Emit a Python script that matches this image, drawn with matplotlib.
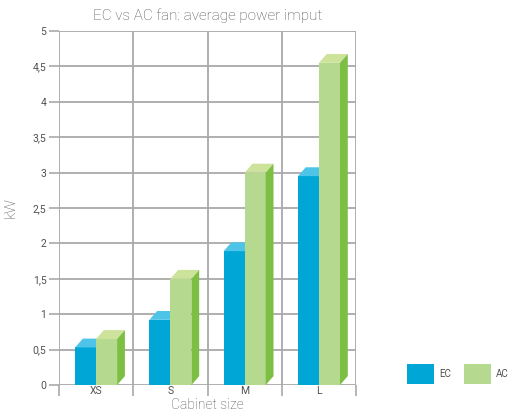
import matplotlib.pyplot as plt
from matplotlib.patches import Polygon, Patch

sizes = ['XS', 'S', 'M', 'L']
ec_kw = [0.53, 0.92, 1.89, 2.95]
ac_kw = [0.65, 1.50, 3.00, 4.55]
yticks = [0, 0.5, 1, 1.5, 2, 2.5, 3, 3.5, 4, 4.5, 5]
ytick_labels = ['0', '0,5', '1', '1,5', '2', '2,5', '3', '3,5', '4', '4,5', '5']

ec_front, ec_top = '#00a6d6', '#4dc4e8'
ac_front, ac_top, ac_side = '#b5d98e', '#cde29a', '#7cbf42'
grid_col = '#a9a9a9'
text_col = '#505050'

plt.rcParams['font.family'] = ['Roboto', 'DejaVu Sans']

fig = plt.figure(figsize=(5.08, 4.11), dpi=100)
ax = fig.add_axes([0.116, 0.0633, 0.585, 0.8613])

w = 0.283
dx, dy = 0.105, 0.125  # depth of the fake 3d boxes (data units)


def box(x, h, front, top, side):
    ax.bar(x, h, width=w, color=front, zorder=3, linewidth=0)
    l, r = x - w / 2, x + w / 2
    ax.add_patch(Polygon([(l, h), (r, h), (r + dx, h + dy), (l + dx, h + dy)],
                         closed=True, facecolor=top, edgecolor='none', zorder=3))
    ax.add_patch(Polygon([(r, 0), (r + dx, dy), (r + dx, h + dy), (r, h)],
                         closed=True, facecolor=side, edgecolor='none', zorder=3))


for i, (e, a) in enumerate(zip(ec_kw, ac_kw)):
    box(i - w / 2, e, ec_front, ec_top, ec_front)
    box(i + w / 2, a, ac_front, ac_top, ac_side)

ax.set_xlim(-0.5, 3.5)
ax.set_ylim(0, 5)
for s in ax.spines.values():
    s.set_visible(False)

ax.set_yticks(yticks)
ax.set_yticklabels(ytick_labels)
ax.set_xticks([-0.5, 0.5, 1.5, 2.5, 3.5])
ax.set_xticklabels([])
ax.set_xticks(range(len(sizes)), minor=True)
ax.set_xticklabels(sizes, minor=True)
ax.tick_params(axis='x', which='major', length=8, width=1.2, color=grid_col)
ax.tick_params(axis='x', which='minor', length=0, pad=1, labelsize=7.5, labelcolor=text_col)
ax.tick_params(axis='y', length=7, width=1.2, color=grid_col, pad=2, labelsize=7.5, labelcolor=text_col)
ax.grid(True, which='major', color=grid_col, linewidth=1.3, zorder=0)
ax.set_axisbelow(True)

ax.set_title('EC vs AC fan: average power imput', fontsize=11, color=text_col,
             fontweight='light', pad=8)
ax.set_ylabel('kW', fontsize=11, color=text_col, fontweight='light', labelpad=11)
ax.set_xlabel('Cabinet size', fontsize=10, color=text_col, fontweight='light', labelpad=-2)

handles = [Patch(facecolor=ec_front, edgecolor='none', label='EC'),
           Patch(facecolor=ac_front, edgecolor='none', label='AC')]
fig.legend(handles=handles, loc='center left', bbox_to_anchor=(0.784, 0.09), ncol=2,
           frameon=False, fontsize=7, labelcolor=text_col, handlelength=2.8,
           handleheight=2.7, columnspacing=1.3, handletextpad=0.5)

fig.savefig('out.png', dpi=100)
